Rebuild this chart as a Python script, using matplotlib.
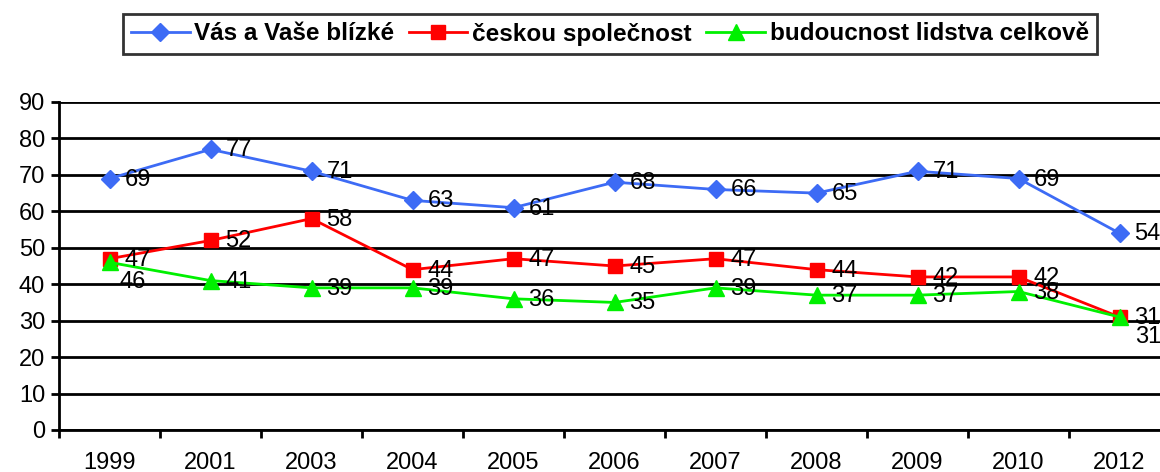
import matplotlib.pyplot as plt
import numpy as np

plt.rcParams['font.family'] = ['Liberation Sans', 'DejaVu Sans']

years = ["1999", "2001", "2003", "2004", "2005", "2006", "2007", "2008", "2009", "2010", "2012"]
blizke = [69, 77, 71, 63, 61, 68, 66, 65, 71, 69, 54]
spolecnost = [47, 52, 58, 44, 47, 45, 47, 44, 42, 42, 31]
lidstvo = [46, 41, 39, 39, 36, 35, 39, 37, 37, 38, 31]

names = ["Vás a Vaše blízké", "českou společnost", "budoucnost lidstva celkově"]
colors = ["#3D6BF5", "#FF0000", "#00F000"]
markers = ["D", "s", "^"]
msizes = [9, 10, 11]

fig = plt.figure(figsize=(11.6, 4.72), dpi=100)
ax = fig.add_axes([59 / 1160, 42 / 472, 1111 / 1160, 328 / 472])

x = np.arange(len(years))
handles = []
for i, vals in enumerate([blizke, spolecnost, lidstvo]):
    h, = ax.plot(x, vals, color=colors[i], lw=2, marker=markers[i], ms=msizes[i],
                 mec=colors[i], mfc=colors[i], label=names[i], zorder=3, clip_on=False)
    handles.append(h)
    for j, v in enumerate(vals):
        dx, dy = 15, -1
        if i == 2 and j in (0, len(vals) - 1):
            dx, dy = 10 if j == 0 else 16, -20
        ax.annotate(str(v), (x[j], v), xytext=(dx, dy), textcoords='offset pixels',
                    ha='left', va='center', fontsize=17, zorder=4, annotation_clip=False)

ax.set_xlim(-0.5, len(years) - 0.5)
ax.set_ylim(0, 90)
ax.set_yticks(range(0, 91, 10))
ax.set_xticks(x)
ax.set_xticklabels(years)
ax.set_xticks(np.arange(-0.5, len(years), 1.0), minor=True)
ax.tick_params(axis='x', which='major', length=0, pad=16, labelsize=17)
ax.tick_params(axis='x', which='minor', length=6, width=2, direction='out')
ax.tick_params(axis='y', length=6, width=2, direction='out', labelsize=17, pad=4)
ax.yaxis.grid(True, color='black', lw=2)
ax.set_axisbelow(True)
for s in ['top', 'right']:
    ax.spines[s].set_visible(False)
for s in ['left', 'bottom']:
    ax.spines[s].set_linewidth(2)

leg = fig.legend(handles=handles, loc='center', bbox_to_anchor=(610 / 1160, 1 - 34 / 472),
                 ncol=3, frameon=True, fancybox=False, edgecolor='black',
                 prop={'weight': 'bold', 'size': 17.5}, handlelength=2.4, handletextpad=0.2,
                 columnspacing=0.6, borderpad=0.35)
leg.get_frame().set_linewidth(2)

fig.savefig("out.png", dpi=100)
